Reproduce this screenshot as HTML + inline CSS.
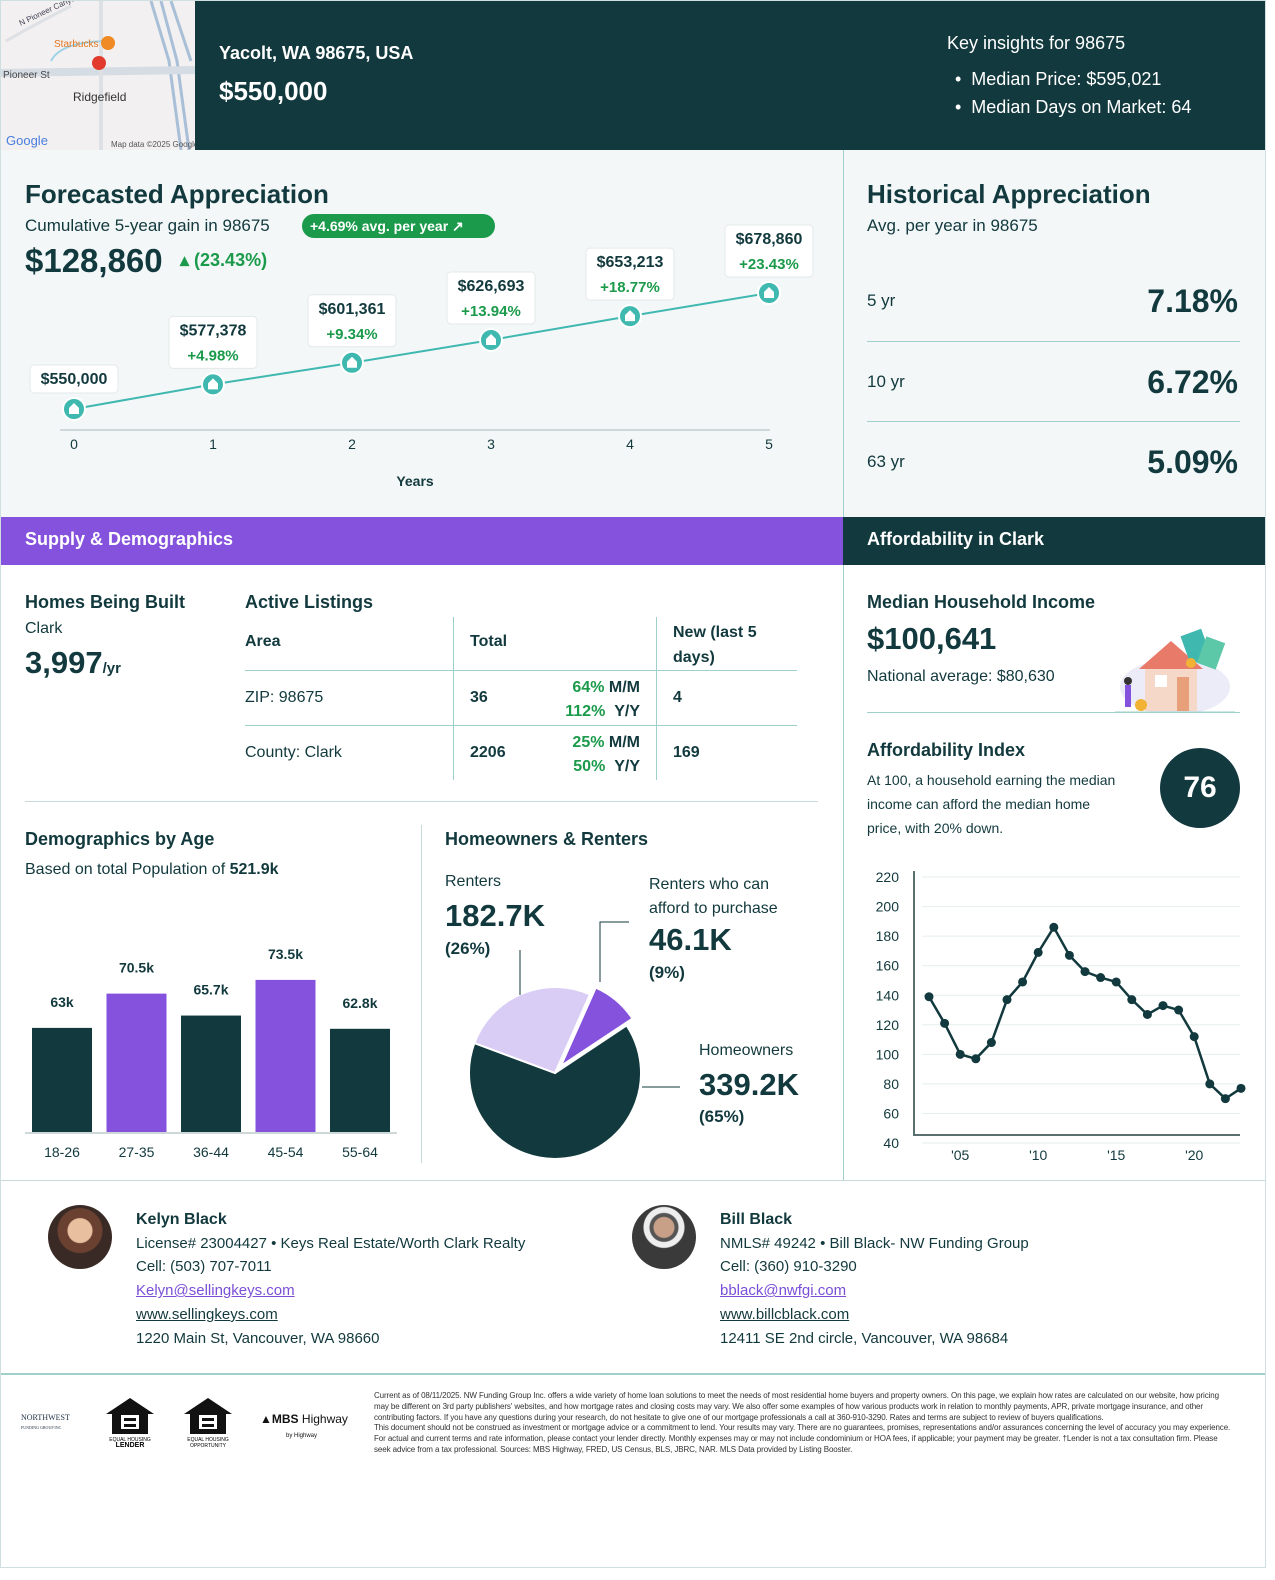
<!DOCTYPE html>
<html><head><meta charset="utf-8">
<style>
*{box-sizing:border-box;margin:0;padding:0}
body{width:1275px;height:1580px;background:#fff;font-family:"Liberation Sans",sans-serif;color:#12393d;position:relative;overflow:hidden}
.a{position:absolute;white-space:nowrap}
.g{color:#1a9a4a}
a{color:#7a4fd6;text-decoration:underline}
</style></head><body>
<div class="a" style="left:0;top:0;width:1266px;height:1568px;border:1px solid #cfdede"></div>

<!-- header -->
<div class="a" style="left:1px;top:1px;width:194px;height:149px;background:#f2f0f0;overflow:hidden">
<svg width="194" height="149">
<path d="M150 0 L168 60 L180 149" stroke="#a9bfd8" stroke-width="3" fill="none"/>
<path d="M160 0 L176 60 L188 149" stroke="#a9bfd8" stroke-width="3" fill="none"/>
<path d="M170 0 L190 60" stroke="#a9bfd8" stroke-width="3" fill="none"/>
<path d="M0 72 L194 69" stroke="#d6dce3" stroke-width="8"/>
<path d="M100 0 L100 149" stroke="#dde0e4" stroke-width="4"/>
<path d="M5 40 Q40 20 70 5" stroke="#dde0e4" stroke-width="3" fill="none"/>
<path d="M50 60 Q60 40 110 40" stroke="#9fd3e6" stroke-width="2" fill="none"/>
<circle cx="98" cy="62" r="7" fill="#e23b2e"/><circle cx="107" cy="42" r="7" fill="#f08a24"/>
</svg>
<div class="a" style="left:15px;top:2px;font-size:8px;color:#445;transform:rotate(-25deg)">N Pioneer Canyon Dr</div>
<div class="a" style="left:53px;top:38px;font-size:10px;color:#e4761e">Starbucks</div>
<div class="a" style="left:2px;top:69px;font-size:10px;color:#444">Pioneer St</div>
<div class="a" style="left:72px;top:89px;font-size:12px;color:#333">Ridgefield</div>
<div class="a" style="left:5px;top:132px;font-size:13px;color:#4a7ee0">Google</div>
<div class="a" style="left:110px;top:139px;font-size:8px;color:#555">Map data ©2025 Google</div>
</div>
<div class="a" style="left:195px;top:1px;width:1070px;height:149px;background:#12393d"></div>
<div class="a" style="left:219px;top:43px;font-size:18px;color:#fff;font-weight:bold">Yacolt, WA 98675, USA</div>
<div class="a" style="left:219px;top:76px;font-size:26px;color:#fff;font-weight:bold">$550,000</div>
<div class="a" style="left:947px;top:33px;font-size:18px;color:#fff">Key insights for 98675</div>
<div class="a" style="left:955px;top:69px;font-size:18px;color:#fff">• &nbsp;Median Price: $595,021</div>
<div class="a" style="left:955px;top:97px;font-size:18px;color:#fff">• &nbsp;Median Days on Market: 64</div>

<!-- forecast -->
<div class="a" style="left:1px;top:150px;width:842px;height:367px;background:#f3f7f8"></div>
<div class="a" style="left:843px;top:150px;width:422px;height:367px;background:#f3f7f8;border-left:1px solid #9fd0cc"></div>
<div class="a" style="left:25px;top:179px;font-size:26px;font-weight:bold">Forecasted Appreciation</div>
<div class="a" style="left:25px;top:216px;font-size:17px">Cumulative 5-year gain in 98675</div>
<div class="a" style="left:302px;top:214px;width:193px;height:24px;border-radius:12px;background:#1a9a4a;color:#fff;font-size:14px;font-weight:bold;line-height:24px;padding-left:8px">+4.69% avg. per year ↗</div>
<div class="a" style="left:25px;top:242px;font-size:33px;font-weight:bold">$128,860</div>
<div class="a g" style="left:180px;top:250px;font-size:18px;font-weight:bold">▴ (23.43%)</div>
<svg class="a" style="left:0;top:150px" width="843" height="367" id="fc"></svg>

<div class="a" style="left:867px;top:179px;font-size:26px;font-weight:bold">Historical Appreciation</div>
<div class="a" style="left:867px;top:216px;font-size:17px">Avg. per year in 98675</div>
<div class="a" style="left:867px;top:291px;font-size:17px">5 yr</div>
<div class="a" style="right:37px;top:283px;font-size:32px;font-weight:bold">7.18%</div>
<div class="a" style="left:867px;top:341px;width:373px;border-top:1px solid #9fd0cc"></div>
<div class="a" style="left:867px;top:372px;font-size:17px">10 yr</div>
<div class="a" style="right:37px;top:364px;font-size:32px;font-weight:bold">6.72%</div>
<div class="a" style="left:867px;top:421px;width:373px;border-top:1px solid #9fd0cc"></div>
<div class="a" style="left:867px;top:452px;font-size:17px">63 yr</div>
<div class="a" style="right:37px;top:444px;font-size:32px;font-weight:bold">5.09%</div>

<!-- section bars -->
<div class="a" style="left:1px;top:517px;width:842px;height:48px;background:#8452dc;color:#fff;font-size:18px;font-weight:bold;padding:12px 24px">Supply &amp; Demographics</div>
<div class="a" style="left:843px;top:517px;width:422px;height:48px;background:#12393d;color:#fff;font-size:18px;font-weight:bold;padding:12px 24px">Affordability in Clark</div>
<div class="a" style="left:843px;top:565px;height:615px;border-left:1px solid #9fd0cc"></div>

<!-- homes built -->
<div class="a" style="left:25px;top:592px;font-size:18px;font-weight:bold">Homes Being Built</div>
<div class="a" style="left:25px;top:620px;font-size:16px">Clark</div>
<div class="a" style="left:25px;top:645px;font-size:31px;font-weight:bold">3,997<span style="font-size:15px">/yr</span></div>

<div class="a" style="left:245px;top:592px;font-size:18px;font-weight:bold">Active Listings</div>
<div class="a" style="left:453px;top:617px;height:163px;border-left:1px solid #9fd0cc"></div>
<div class="a" style="left:656px;top:617px;height:163px;border-left:1px solid #9fd0cc"></div>
<div class="a" style="left:245px;top:670px;width:552px;border-top:1px solid #9fd0cc"></div>
<div class="a" style="left:245px;top:725px;width:552px;border-top:1px solid #9fd0cc"></div>
<div class="a" style="left:245px;top:633px;font-size:16px;font-weight:bold">Area</div>
<div class="a" style="left:470px;top:633px;font-size:16px;font-weight:bold">Total</div>
<div class="a" style="left:673px;top:620px;font-size:16px;font-weight:bold;line-height:25px">New (last 5<br>days)</div>
<div class="a" style="left:245px;top:689px;font-size:16px">ZIP: 98675</div>
<div class="a" style="left:470px;top:689px;font-size:16px;font-weight:bold">36</div>
<div class="a" style="left:540px;top:676px;font-size:16px;font-weight:bold;line-height:24px;text-align:right;width:100px"><span class="g">64%</span> M/M<br><span class="g">112%</span> &nbsp;Y/Y</div>
<div class="a" style="left:673px;top:689px;font-size:16px;font-weight:bold">4</div>
<div class="a" style="left:245px;top:744px;font-size:16px">County: Clark</div>
<div class="a" style="left:470px;top:744px;font-size:16px;font-weight:bold">2206</div>
<div class="a" style="left:540px;top:731px;font-size:16px;font-weight:bold;line-height:24px;text-align:right;width:100px"><span class="g">25%</span> M/M<br><span class="g">50%</span> &nbsp;Y/Y</div>
<div class="a" style="left:673px;top:744px;font-size:16px;font-weight:bold">169</div>
<div class="a" style="left:25px;top:801px;width:793px;border-top:1px solid #c9dada"></div>

<!-- demographics -->
<div class="a" style="left:25px;top:829px;font-size:18px;font-weight:bold">Demographics by Age</div>
<div class="a" style="left:25px;top:861px;font-size:16px">Based on total Population of <b>521.9k</b></div>
<svg class="a" style="left:0;top:900px" width="420" height="270" id="bc"></svg>
<div class="a" style="left:421px;top:825px;height:338px;border-left:1px solid #c9dada"></div>

<div class="a" style="left:445px;top:829px;font-size:18px;font-weight:bold">Homeowners &amp; Renters</div>
<div class="a" style="left:445px;top:873px;font-size:16px">Renters</div>
<div class="a" style="left:445px;top:898px;font-size:31px;font-weight:bold">182.7K</div>
<div class="a" style="left:445px;top:939px;font-size:17px;font-weight:bold">(26%)</div>
<div class="a" style="left:649px;top:873px;font-size:16px;line-height:24px">Renters who can<br>afford to purchase</div>
<div class="a" style="left:649px;top:922px;font-size:31px;font-weight:bold">46.1K</div>
<div class="a" style="left:649px;top:963px;font-size:17px;font-weight:bold">(9%)</div>
<div class="a" style="left:699px;top:1042px;font-size:16px">Homeowners</div>
<div class="a" style="left:699px;top:1067px;font-size:31px;font-weight:bold">339.2K</div>
<div class="a" style="left:699px;top:1107px;font-size:17px;font-weight:bold">(65%)</div>
<svg class="a" style="left:430px;top:900px" width="260" height="270" id="pc"></svg>

<!-- affordability -->
<div class="a" style="left:867px;top:592px;font-size:18px;font-weight:bold">Median Household Income</div>
<div class="a" style="left:867px;top:621px;font-size:31px;font-weight:bold">$100,641</div>
<div class="a" style="left:867px;top:668px;font-size:16px">National average: $80,630</div>
<svg class="a" style="left:1115px;top:627px" width="120" height="86">
<ellipse cx="60" cy="60" rx="55" ry="28" fill="#ecebf8"/>
<rect x="30" y="40" width="52" height="44" fill="#f6d8c8"/><polygon points="24,42 56,14 88,42" fill="#e87a6a"/>
<rect x="40" y="48" width="12" height="12" fill="#fff"/><rect x="62" y="50" width="12" height="34" fill="#e8a07a"/>
<rect x="70" y="5" width="22" height="30" fill="#3fb8b0" transform="rotate(-20 80 20)"/><rect x="86" y="12" width="20" height="28" fill="#5cc8a8" transform="rotate(20 96 26)"/>
<circle cx="76" cy="36" r="5" fill="#f2b233"/><circle cx="26" cy="78" r="6" fill="#f2b233"/>
<rect x="10" y="58" width="6" height="22" fill="#8452dc"/><circle cx="13" cy="54" r="4" fill="#333"/>
<line x1="0" y1="85" x2="125" y2="85" stroke="#9fd0cc"/>
</svg>
<div class="a" style="left:867px;top:712px;width:373px;border-top:1px solid #9fd0cc"></div>
<div class="a" style="left:867px;top:740px;font-size:18px;font-weight:bold">Affordability Index</div>
<div class="a" style="left:867px;top:768px;font-size:14px;line-height:24px">At 100, a household earning the median<br>income can afford the median home<br>price, with 20% down.</div>
<div class="a" style="left:1160px;top:748px;width:80px;height:80px;border-radius:40px;background:#12393d;color:#fff;font-size:30px;font-weight:bold;text-align:center;line-height:80px">76</div>
<svg class="a" style="left:845px;top:850px" width="420" height="330" id="lc"></svg>

<!-- agents -->
<div class="a" style="left:1px;top:1180px;width:1264px;border-top:1px solid #c9dada"></div>
<div class="a" style="left:48px;top:1205px;width:64px;height:64px;border-radius:32px;background:radial-gradient(circle at 50% 40%,#e8c0a0 0 12px,#6a4030 13px 22px,#3a2a25 23px)"></div>
<div class="a" style="left:136px;top:1208px;font-size:15px;line-height:23.7px">
<b style="font-size:16px">Kelyn Black</b><br>License# 23004427 • Keys Real Estate/Worth Clark Realty<br>Cell: (503) 707-7011<br><a>Kelyn@sellingkeys.com</a><br><a style="color:#12393d">www.sellingkeys.com</a><br>1220 Main St, Vancouver, WA 98660</div>
<div class="a" style="left:632px;top:1205px;width:64px;height:64px;border-radius:32px;background:radial-gradient(circle at 50% 35%,#c8a088 0 10px,#555 11px 14px,#eee 15px 20px,#3a3a3a 21px)"></div>
<div class="a" style="left:720px;top:1208px;font-size:15px;line-height:23.7px">
<b style="font-size:16px">Bill Black</b><br>NMLS# 49242 • Bill Black- NW Funding Group<br>Cell: (360) 910-3290<br><a>bblack@nwfgi.com</a><br><a style="color:#12393d">www.billcblack.com</a><br>12411 SE 2nd circle, Vancouver, WA 98684</div>

<!-- footer -->
<div class="a" style="left:1px;top:1373px;width:1264px;border-top:2px solid #9fd0cc"></div>
<div class="a" style="left:21px;top:1413px;font-size:8px;color:#234;font-family:'Liberation Serif',serif">NORTHWEST<br><span style="font-size:4px">FUNDING GROUP INC</span></div>
<svg class="a" style="left:104px;top:1396px" width="140" height="52">
<polygon points="2,18 26,2 50,18 44,18 44,38 8,38 8,18" fill="#111"/><rect x="17" y="19" width="18" height="14" fill="#fff"/><rect x="20" y="22" width="12" height="3" fill="#111"/><rect x="20" y="28" width="12" height="3" fill="#111"/>
<text x="26" y="45" font-size="5" text-anchor="middle" font-family="Liberation Sans">EQUAL HOUSING</text><text x="26" y="51" font-size="7" font-weight="bold" text-anchor="middle" font-family="Liberation Sans">LENDER</text>
<polygon points="80,18 104,2 128,18 122,18 122,38 86,38 86,18" fill="#111"/><rect x="95" y="19" width="18" height="14" fill="#fff"/><rect x="98" y="22" width="12" height="3" fill="#111"/><rect x="98" y="28" width="12" height="3" fill="#111"/>
<text x="104" y="45" font-size="5" text-anchor="middle" font-family="Liberation Sans">EQUAL HOUSING</text><text x="104" y="51" font-size="5" text-anchor="middle" font-family="Liberation Sans">OPPORTUNITY</text>
</svg>
<div class="a" style="left:260px;top:1412px;font-size:12px;color:#111">▲<b>MBS</b> Highway<br><span style="font-size:6px;margin-left:26px">by Highway</span></div>
<div class="a" style="left:374px;top:1391px;width:860px;white-space:normal;font-size:8px;line-height:10.8px;color:#333;letter-spacing:-0.1px">Current as of 08/11/2025. NW Funding Group Inc. offers a wide variety of home loan solutions to meet the needs of most residential home buyers and property owners. On this page, we explain how rates are calculated on our website, how pricing may be different on 3rd party publishers' websites, and how mortgage rates and closing costs may vary. We also offer some examples of how various products work in relation to monthly payments, APR, private mortgage insurance, and other contributing factors. If you have any questions during your research, do not hesitate to give one of our mortgage professionals a call at 360-910-3290. Rates and terms are subject to review of buyers qualifications.<br>This document should not be construed as investment or mortgage advice or a commitment to lend. Your results may vary. There are no guarantees, promises, representations and/or assurances concerning the level of accuracy you may experience. For actual and current terms and rate information, please contact your lender directly. Monthly expenses may or may not include condominium or HOA fees, if applicable; your payment may be greater. †Lender is not a tax consultation firm. Please seek advice from a tax professional. Sources: MBS Highway, FRED, US Census, BLS, JBRC, NAR. MLS Data provided by Listing Booster.</div>

<script>
const NS="http://www.w3.org/2000/svg";
function mk(p,t,at,txt){const e=document.createElementNS(NS,t);for(const k in at)e.setAttribute(k,at[k]);if(txt!=null)e.textContent=txt;p.appendChild(e);return e;}

// Forecast data
const fcYears=[0,1,2,3,4,5];
const fcValues=[550000,577378,601361,626693,653213,678860];
const fcLabels=["$550,000","$577,378","$601,361","$626,693","$653,213","$678,860"];
const fcPct=["","+4.98%","+9.34%","+13.94%","+18.77%","+23.43%"];
// Age data
const ageCats=["18-26","27-35","36-44","45-54","55-64"];
const ageVals=[63,70.5,65.7,73.5,62.8];
const ageLabels=["63k","70.5k","65.7k","73.5k","62.8k"];
// Pie data
const pieCats=["Renters who can afford","Homeowners","Renters"];
const pieVals=[9,65,26];
// Affordability index
const affYears=[2003,2004,2005,2006,2007,2008,2009,2010,2011,2012,2013,2014,2015,2016,2017,2018,2019,2020,2021,2022,2023];
const affVals=[139,121,100,97,108,137,149,169,186,167,156,152,149,137,127,133,130,112,80,70,77];
const affTicks=[40,60,80,100,120,140,160,180,200,220];
const affXTicks=[2005,2010,2015,2020];

// forecast chart
(function(){
const s=document.getElementById('fc');
const x=i=>74+i*139, y=v=>259-(v-550000)*116/128860;
mk(s,'line',{x1:60,x2:770,y1:280,y2:280,stroke:'#cfd8d8','stroke-width':2});
let pts=fcValues.map((v,i)=>x(i)+','+y(v)).join(' ');
const pl=mk(s,'polyline',{points:pts,fill:'none',stroke:'#3fb8b0','stroke-width':2});

fcYears.forEach((yr,i)=>{
 const t=mk(s,'text',{x:x(i),y:299,'font-size':14,'text-anchor':'middle',fill:'#12393d','font-family':'Liberation Sans'},yr);
 
 const v=fcValues[i], cx=x(i), cy=y(v);
 const c=mk(s,'circle',{cx:cx,cy:cy,r:11,fill:'#3fb8b0',stroke:'#fff','stroke-width':2});
 
 
 mk(s,'path',{d:`M${cx-5} ${cy+5}V${cy-1}L${cx} ${cy-6}L${cx+5} ${cy-1}V${cy+5}Z`,fill:'#fff'});
 const two=fcPct[i]!=="";
 const h=two?52:28, top=cy-16-h;
 const r=mk(s,'rect',{x:cx-44,y:top,width:88,height:h,rx:4,fill:'#fff',stroke:'#e3e9e9'});
 
 mk(s,'text',{x:cx,y:top+19,'font-size':16,'font-weight':'bold','text-anchor':'middle',fill:'#12393d','font-family':'Liberation Sans'},fcLabels[i]);
 if(two)mk(s,'text',{x:cx,y:top+44,'font-size':15,'font-weight':'bold','text-anchor':'middle',fill:'#1a9a4a','font-family':'Liberation Sans'},fcPct[i]);
});
const yt=mk(s,'text',{x:415,y:336,'font-size':14,'font-weight':'bold','text-anchor':'middle',fill:'#12393d','font-family':'Liberation Sans'},'Years');

})();

// bar chart
(function(){
const s=document.getElementById('bc');
const base=233, y=v=>base-(v-40)*4.57, x=i=>32+i*74.5;
ageVals.forEach((v,i)=>{
 const b=mk(s,'rect',{x:x(i),y:y(v),width:60,height:base-y(v),fill:i%2?'#8452dc':'#12393d'});
 
 const lb=mk(s,'rect',{x:x(i)+5,y:y(v)-42,width:50,height:30,rx:4,fill:'#fff'});
 
 mk(s,'text',{x:x(i)+30,y:y(v)-21,'font-size':14,'text-anchor':'middle',fill:'#12393d','font-weight':'bold','font-family':'Liberation Sans'},ageLabels[i]);
 const t=mk(s,'text',{x:x(i)+30,y:base+24,'font-size':14,'text-anchor':'middle',fill:'#12393d','font-family':'Liberation Sans'},ageCats[i]);
 
});
mk(s,'line',{x1:25,x2:397,y1:base,y2:base,stroke:'#cfd8d8','stroke-width':2});
})();

// pie
(function(){
const s=document.getElementById('pc');
const cx=125,cy=173,R=86;
const tot=pieVals.reduce((a,b)=>a+b,0);
const fills=['#8452dc','#12393d','#d9cdf5'];
let a0=24;
pieVals.forEach((v,i)=>{
 const a1=a0+v/tot*360, mid=(a0+a1)/2*Math.PI/180;
 const off=i===0?9:0, ox=cx+off*Math.sin(mid), oy=cy-off*Math.cos(mid);
 const p=(a)=>[ox+R*Math.sin(a*Math.PI/180), oy-R*Math.cos(a*Math.PI/180)];
 const [x0,y0]=p(a0),[x1,y1]=p(a1);
 const sl=mk(s,'path',{d:`M${ox} ${oy}L${x0} ${y0}A${R} ${R} 0 ${a1-a0>180?1:0} 1 ${x1} ${y1}Z`,fill:fills[i],stroke:'#fff','stroke-width':2});
 
 a0=a1;
});
mk(s,'polyline',{points:'90,95 90,50',stroke:'#12393d',fill:'none'});
mk(s,'polyline',{points:'170,82 170,22 199,22',stroke:'#12393d',fill:'none'});
mk(s,'polyline',{points:'212,187 250,187',stroke:'#12393d',fill:'none'});
})();

// affordability line
(function(){
const s=document.getElementById('lc');
const y=v=>293-(v-40)*1.4775, x=yr=>84+(yr-2003)*15.6;
affTicks.forEach(t=>{
 mk(s,'line',{x1:77,x2:395,y1:y(t),y2:y(t),stroke:'#e4efee'});
 const tx=mk(s,'text',{x:54,y:y(t)+5,'font-size':14,'text-anchor':'end',fill:'#12393d','font-family':'Liberation Sans'},t);
 
});
affXTicks.forEach(t=>{
 const tx=mk(s,'text',{x:x(t),y:310,'font-size':14,'text-anchor':'middle',fill:'#12393d','font-family':'Liberation Sans'},"'"+String(t).slice(2));
 
});
mk(s,'polyline',{points:'69,21 69,285 395,285',fill:'none',stroke:'#5a7070','stroke-width':2});
const l=mk(s,'polyline',{points:affVals.map((v,i)=>x(affYears[i])+','+y(v)).join(' '),fill:'none',stroke:'#12393d','stroke-width':2.5});

affVals.forEach((v,i)=>{
 const c=mk(s,'circle',{cx:x(affYears[i]),cy:y(v),r:4.5,fill:'#12393d'});
 
});
})();
</script>
</body></html>
